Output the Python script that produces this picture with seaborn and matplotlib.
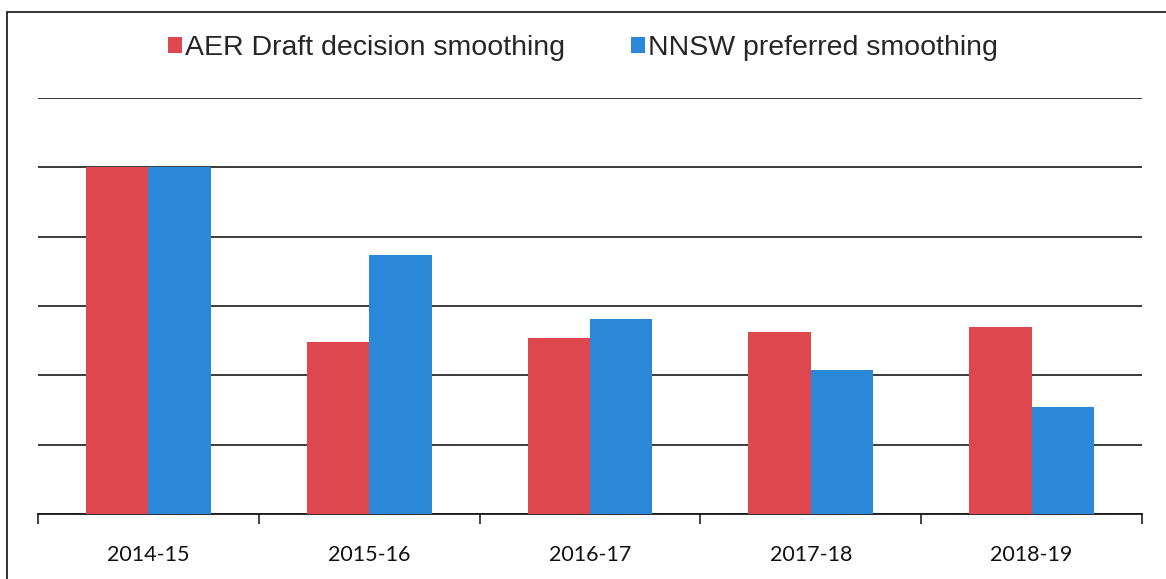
import matplotlib
matplotlib.use("Agg")
import matplotlib.pyplot as plt
import seaborn as sns
import pandas as pd
from matplotlib.patches import Rectangle
from matplotlib.ticker import FixedLocator

years = ["2014-15", "2015-16", "2016-17", "2017-18", "2018-19"]
series_names = ["AER Draft decision smoothing", "NNSW preferred smoothing"]
aer_values = [5.0, 2.48, 2.54, 2.63, 2.69]
nnsw_values = [5.0, 3.74, 2.81, 2.08, 1.54]
colors = ["#DE474D", "#2B87D7"]

df = pd.DataFrame({
    "year": years * 2,
    "series": [series_names[0]] * len(years) + [series_names[1]] * len(years),
    "value": aer_values + nnsw_values,
})

sns.set_style("white")
plt.rcParams["font.family"] = ["Liberation Sans", "DejaVu Sans"]

fig = plt.figure(figsize=(11.66, 5.79), dpi=100)
ax = fig.add_axes([38 / 1166, 1 - 514 / 579, (1142 - 38) / 1166, (514 - 98) / 579])

sns.barplot(data=df, x="year", y="value", hue="series", palette=colors,
            width=0.566, saturation=1, ax=ax, zorder=3, linewidth=0)

ax.set_xlim(-0.5, len(years) - 0.5)
ax.set_ylim(0, 6)
ax.set_yticks(range(0, 7))
ax.yaxis.grid(True, color="#1a1a1a", linewidth=1.2, zorder=0)
ax.xaxis.grid(False)
ax.set_yticklabels([])
ax.tick_params(axis="y", length=0)
ax.set_xlabel("")
ax.set_ylabel("")

ax.xaxis.set_minor_locator(FixedLocator([i - 0.5 for i in range(len(years) + 1)]))
ax.tick_params(axis="x", which="major", length=0, pad=22)
ax.tick_params(axis="x", which="minor", length=7, width=1.2, color="#222222", direction="out", bottom=True)
for lbl in ax.get_xticklabels():
    lbl.set_fontfamily(["Lato", "DejaVu Sans"])
    lbl.set_fontsize(15.5)
    lbl.set_color("#111111")

for side in ["top", "right", "left"]:
    ax.spines[side].set_visible(False)
ax.spines["bottom"].set_color("#1a1a1a")
ax.spines["bottom"].set_linewidth(1.3)

handles, labels = ax.get_legend_handles_labels()
ax.legend_.remove()
fig.legend(handles, labels, loc="center", bbox_to_anchor=(583 / 1166, 1 - 48 / 579),
           ncol=2, frameon=False, fontsize=20.5, handlelength=0.5, handleheight=0.5,
           handletextpad=0.1, columnspacing=2.3)

fig.patches.append(Rectangle((7 / 1166, -0.05), 1.1, 1 - 12 / 579 + 0.05,
                             transform=fig.transFigure, fill=False,
                             edgecolor="#222222", linewidth=1.3, clip_on=False))

fig.savefig("out.png", dpi=100)
